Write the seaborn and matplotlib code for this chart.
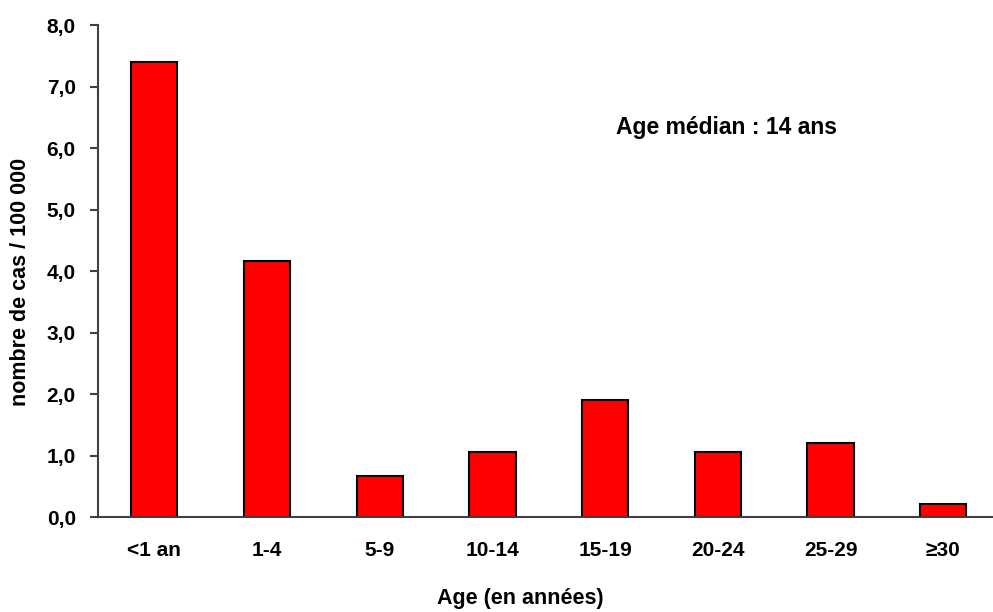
import matplotlib
matplotlib.use("Agg")
import matplotlib.pyplot as plt
import seaborn as sns
import numpy as np

# Données
age_groups = ["<1 an", "1-4", "5-9", "10-14", "15-19", "20-24", "25-29", "≥30"]
taux = [7.40, 4.16, 0.67, 1.06, 1.90, 1.06, 1.20, 0.22]
y_ticks = [0, 1, 2, 3, 4, 5, 6, 7, 8]
y_tick_labels = ["0,0", "1,0", "2,0", "3,0", "4,0", "5,0", "6,0", "7,0", "8,0"]

sns.set_theme(style="white")
plt.rcParams['font.family'] = ['Liberation Sans', 'DejaVu Sans']
plt.rcParams['font.weight'] = 'bold'
plt.rcParams['text.color'] = 'black'
plt.rcParams['axes.labelcolor'] = 'black'
plt.rcParams['xtick.color'] = 'black'
plt.rcParams['ytick.color'] = 'black'

fig = plt.figure(figsize=(9.93, 6.12), dpi=100)
ax = fig.add_axes([0.0987, 0.155, 0.908, 0.804])

sns.barplot(x=age_groups, y=taux, color="#ff0000", saturation=1,
            edgecolor="black", linewidth=1.5, width=0.41, ax=ax)

ax.set_xlim(-0.5, 7.5)
ax.set_ylim(0, 8)
ax.set_yticks(y_ticks)
ax.set_yticklabels(y_tick_labels, fontsize=15, fontweight='bold')
ax.set_xticks(range(len(age_groups)))
ax.set_xticklabels(age_groups, fontsize=15, fontweight='bold')

# graduations entre les catégories
ax.set_xticks(np.arange(-0.5, 8, 1), minor=True)
ax.tick_params(axis='x', which='major', length=0, pad=17)
ax.tick_params(axis='x', which='minor', length=6, width=1.5, color='#404040', direction='out')
ax.tick_params(axis='y', which='major', length=6, width=1.5, color='#404040', direction='out', pad=10, left=True)

for s in ['top', 'right']:
    ax.spines[s].set_visible(False)
for s in ['left', 'bottom']:
    ax.spines[s].set_color('#404040')
    ax.spines[s].set_linewidth(1.5)

ax.set_ylabel("nombre de cas / 100 000", fontsize=15.5, fontweight='bold')
ax.set_xlabel("Age (en années)", fontsize=15.5, fontweight='bold')
ax.yaxis.set_label_coords(-0.0865, 0.478)
ax.xaxis.set_label_coords(0.468, -0.165)
ax.xaxis.label.set_va('center')
ax.yaxis.label.set_va('center')

ax.text(4.1, 6.33, "Age médian : 14 ans", fontsize=16.5, fontweight='bold',
        ha='left', va='center')

fig.savefig("out.png", dpi=100)
